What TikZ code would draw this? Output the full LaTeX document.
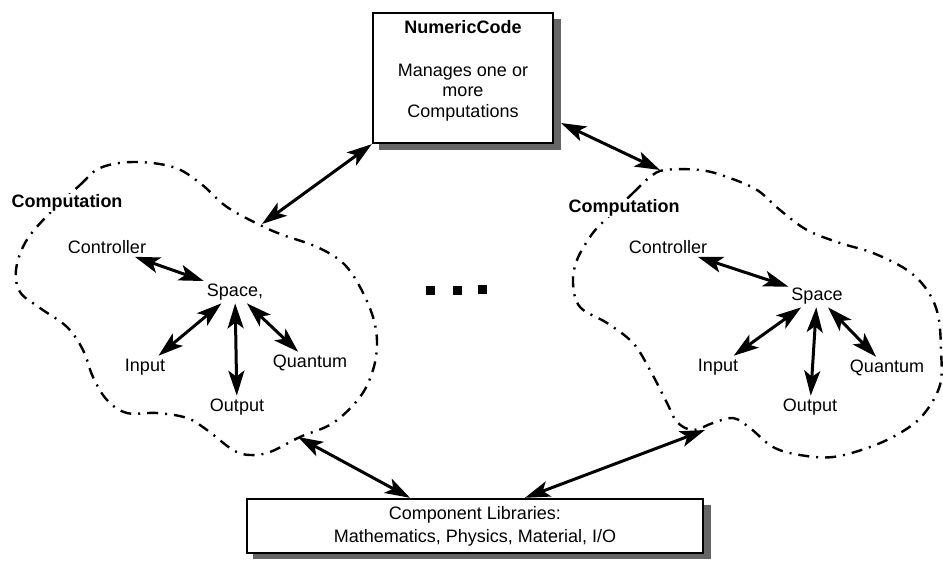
\documentclass[tikz,border=0pt]{standalone}
\usepackage{fontspec}
\setmainfont{Liberation Sans}
\usetikzlibrary{arrows.meta}
\begin{document}
\begin{tikzpicture}[x=1pt,y=-1pt,
  every node/.style={font=\fontsize{18}{21}\selectfont, inner sep=3pt},
  title/.style={font=\fontsize{18}{21}\selectfont\bfseries, fill=white, inner sep=1pt},
  box/.style={draw, line width=2.4pt, fill=white},
  shadowc/.style={fill=black!60},
  blob/.style={line width=2.4pt, dash pattern=on 11pt off 7pt on 2pt off 7pt},
  link/.style={line width=3pt, arrows={Stealth[length=25pt,width=16pt,inset=6pt]-Stealth[length=25pt,width=16pt,inset=6pt]}},
  dotsq/.style={fill=black, minimum size=9pt, inner sep=0pt}
]
\useasboundingbox (0,0) rectangle (943,560);

% shadows
\fill[shadowc] (379,19) rectangle (561,150);
\fill[shadowc] (253,505) rectangle (711,559);
% boxes
\node[box, minimum width=180pt, minimum height=130pt] (nc) at (463,78) {};
\node[font=\fontsize{18}{21}\selectfont\bfseries] (nct) at (463,27) {NumericCode};
\node[align=center, font=\fontsize{18}{20.5}\selectfont] (ncd) at (463,92.5) {Manages one or\\more\\Computations};
\node[box, minimum width=456pt, minimum height=54pt, align=center, font=\fontsize{18}{23}\selectfont] (cl) at (475,526) {Component Libraries:\\Mathematics, Physics, Material, I/O};

% blobs
\draw[blob] plot[smooth cycle, tension=0.6] coordinates {
 (45,218) (80,185) (100,168) (133,162) (173,167) (200,183) (227,207) (262,226)
 (283,235) (317,247) (343,263) (360,287) (373,317) (377,343) (373,370) (360,397)
 (333,423) (300,437) (270,452) (250,455) (233,450) (207,430) (187,418) (157,413)
 (127,413) (107,400) (93,377) (83,350) (67,327) (40,308) (20,292) (16,270) (25,243)};
\draw[blob] plot[smooth cycle, tension=0.6] coordinates {
 (602,223) (633,193) (650,177) (665,170) (700,170) (727,177) (757,190) (780,210)
 (807,230) (840,243) (873,253) (907,270) (927,290) (938,315) (941,350) (940,385)
 (923,415) (900,433) (870,447) (833,457) (800,455) (773,447) (750,428) (733,418)
 (713,423) (693,430) (677,422) (667,403) (650,370) (633,343) (607,323) (580,307)
 (573,283) (577,260) (590,237)};

\node[title] (lc) at (67,203) {Computation};
\node[title] (rc) at (624,208) {Computation};

% left computation
\node (lctl) at (107,247) {Controller};
\node (lsp) at (235,292) {Space,};
\node (lin) at (145,367) {Input};
\node (lq) at (310,363) {Quantum};
\node (lout) at (237,407) {Output};
\draw[link] (lctl) -- (lsp);
\draw[link] (lsp) -- (lin);
\draw[link] (lsp) -- (lout);
\draw[link] (lsp) -- (lq);

% right computation
\node (rctl) at (668,247) {Controller};
\node (rsp) at (817,296) {Space};
\node (rin) at (718,367) {Input};
\node (rq) at (887,368) {Quantum};
\node (rout) at (810,407) {Output};
\draw[link] (rctl) -- (rsp);
\draw[link] (rsp) -- (rin);
\draw[link] (rsp) -- (rout);
\draw[link] (rsp) -- (rq);

% dots
\node[dotsq] (d1) at (430,290) {};
\node[dotsq] (d2) at (457,290) {};
\node[dotsq] (d3) at (482,289) {};

% outer connectors
\coordinate (lTop) at (262,224);
\coordinate (lBot) at (298,437);
\coordinate (rTop) at (660,170);
\coordinate (rBot) at (705,430);
\coordinate (ncR) at (561,123);
\draw[link] (nc.south west) -- (lTop);
\draw[link] (ncR) -- (rTop);
\draw[link] (lBot) -- ([xshift=-65pt]cl.north);
\draw[link] (rBot) -- ([xshift=50pt]cl.north);
\end{tikzpicture}
\end{document}
